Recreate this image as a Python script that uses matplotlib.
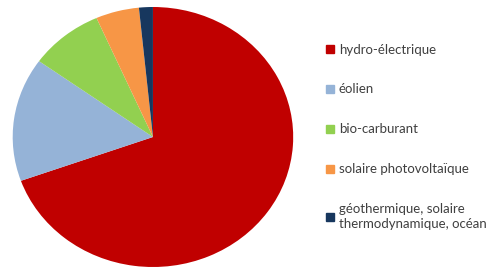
import matplotlib
matplotlib.use("Agg")
import matplotlib.pyplot as plt
from matplotlib.lines import Line2D

labels = ["hydro-électrique", "éolien", "bio-carburant", "solaire photovoltaïque",
          "géothermique, solaire\nthermodynamique, océan"]
values = [69.6, 15.4, 8.5, 5.0, 1.6]
colors = ["#C00000", "#95B3D7", "#92D050", "#F79646", "#17375E"]

plt.rcParams['font.family'] = ['Lato', 'DejaVu Sans']

W, H = 493, 268
fig = plt.figure(figsize=(W / 100, H / 100), dpi=100)

# pie is drawn slightly wider than tall in the original
ax = fig.add_axes([12.7 / W, 1 / H, 280.5 / W, 260 / H])
ax.pie(values, colors=colors, startangle=90, counterclock=False,
       wedgeprops={'linewidth': 0})
ax.set_aspect('auto')
ax.set_xlim(-1, 1)
ax.set_ylim(-1, 1)
ax.axis('off')

handles = [Line2D([], [], linestyle='none', marker='s', markersize=5.5,
                  markerfacecolor=c, markeredgecolor=c) for c in colors]
leg = fig.legend(handles, labels, loc='upper left',
                 bbox_to_anchor=(325 / W, 1 - 43.5 / H), frameon=False,
                 fontsize=9.5, labelspacing=2.12, handlelength=0.8,
                 handletextpad=0.25, borderpad=0, borderaxespad=0)
for t in leg.get_texts():
    t.set_color('#404040')
    t.set_linespacing(1.25)

fig.savefig("out.png", dpi=100)
